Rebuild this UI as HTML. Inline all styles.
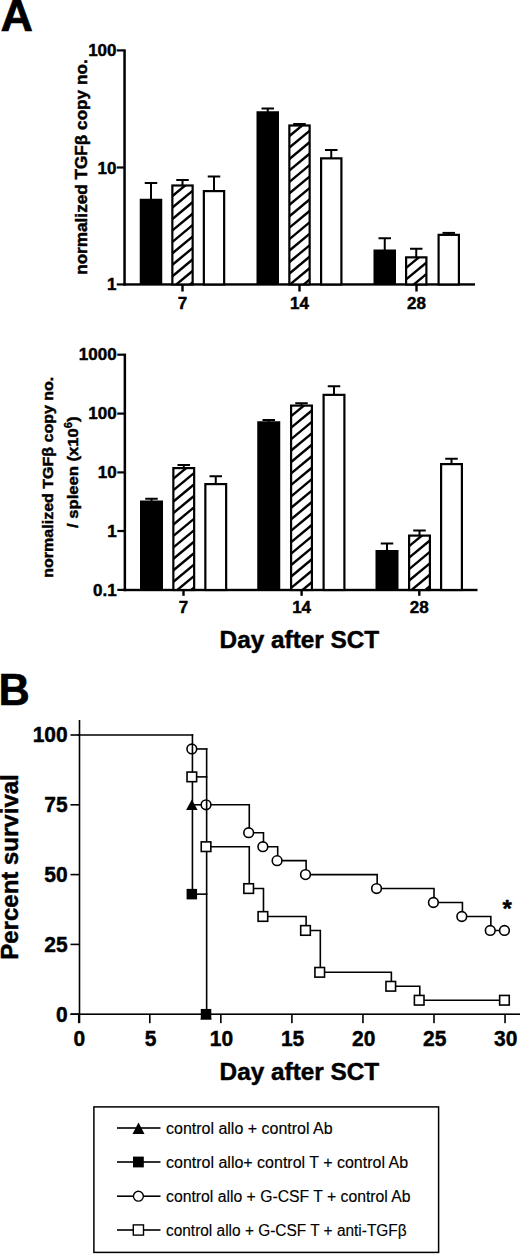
<!DOCTYPE html>
<html><head><meta charset="utf-8"><title>Figure</title>
<style>html,body{margin:0;padding:0;background:#fff}svg{display:block}</style></head>
<body>
<svg width="520" height="1255" viewBox="0 0 520 1255" font-family="Liberation Sans, Arial, Helvetica, sans-serif" fill="#000">
<rect x="0.00" y="0.00" width="520.00" height="1255.00" fill="#fff" />
<text x="0.60" y="31.20" font-size="45" font-weight="bold" text-anchor="start" stroke="#000" stroke-linejoin="round" stroke-width="0.7">A</text>
<text x="-1.50" y="705.10" font-size="45" font-weight="bold" text-anchor="start" textLength="31.3" lengthAdjust="spacingAndGlyphs" stroke="#000" stroke-linejoin="round" stroke-width="0.6">B</text>
<rect x="123.30" y="49.30" width="2.50" height="236.35" fill="#000" />
<rect x="123.30" y="283.25" width="351.70" height="2.40" fill="#000" />
<rect x="116.80" y="49.30" width="7.00" height="2.20" fill="#000" />
<text x="116.50" y="56.40" font-size="17" font-weight="bold" text-anchor="end" stroke="#000" stroke-width="0.45" stroke-linejoin="round" >100</text>
<rect x="116.80" y="166.40" width="7.00" height="2.20" fill="#000" />
<text x="116.50" y="173.50" font-size="17" font-weight="bold" text-anchor="end" stroke="#000" stroke-width="0.45" stroke-linejoin="round" >10</text>
<rect x="116.80" y="283.35" width="7.00" height="2.20" fill="#000" />
<text x="116.50" y="290.45" font-size="17" font-weight="bold" text-anchor="end" stroke="#000" stroke-width="0.45" stroke-linejoin="round" >1</text>
<rect x="181.30" y="284.45" width="2.40" height="7.10" fill="#000" />
<text x="182.50" y="309.00" font-size="17" font-weight="bold" text-anchor="middle" stroke="#000" stroke-width="0.45" stroke-linejoin="round" >7</text>
<rect x="298.30" y="284.45" width="2.40" height="7.10" fill="#000" />
<text x="299.50" y="309.00" font-size="17" font-weight="bold" text-anchor="middle" stroke="#000" stroke-width="0.45" stroke-linejoin="round" >14</text>
<rect x="415.30" y="284.45" width="2.40" height="7.10" fill="#000" />
<text x="416.50" y="309.00" font-size="17" font-weight="bold" text-anchor="middle" stroke="#000" stroke-width="0.45" stroke-linejoin="round" >28</text>
<text transform="translate(86.9,167.1) rotate(-90)" font-size="16" font-weight="bold" stroke="#000" stroke-width="0.45" text-anchor="middle" textLength="215.5" lengthAdjust="spacingAndGlyphs">normalized TGFβ copy no.</text>
<rect x="150.00" y="183.00" width="2.00" height="16.75" fill="#000" />
<rect x="144.75" y="182.00" width="12.50" height="2.00" fill="#000" />
<rect x="139.75" y="198.75" width="22.50" height="85.70" fill="#000" />
<rect x="181.50" y="180.00" width="2.00" height="5.40" fill="#000" />
<rect x="176.25" y="179.00" width="12.50" height="2.00" fill="#000" />
<rect x="172.35" y="185.50" width="20.30" height="98.95" fill="#fff" stroke="#000" stroke-width="2.2"/>
<clipPath id="c1"><rect x="172.35" y="185.50" width="20.30" height="98.95"/></clipPath>
<g clip-path="url(#c1)" stroke="#000" stroke-width="2.4">
<line x1="168.75" y1="164.77" x2="197.75" y2="140.70"/>
<line x1="168.75" y1="176.22" x2="197.75" y2="152.15"/>
<line x1="168.75" y1="187.67" x2="197.75" y2="163.60"/>
<line x1="168.75" y1="199.12" x2="197.75" y2="175.05"/>
<line x1="168.75" y1="210.57" x2="197.75" y2="186.50"/>
<line x1="168.75" y1="222.02" x2="197.75" y2="197.95"/>
<line x1="168.75" y1="233.47" x2="197.75" y2="209.40"/>
<line x1="168.75" y1="244.92" x2="197.75" y2="220.85"/>
<line x1="168.75" y1="256.37" x2="197.75" y2="232.30"/>
<line x1="168.75" y1="267.82" x2="197.75" y2="243.75"/>
<line x1="168.75" y1="279.27" x2="197.75" y2="255.20"/>
<line x1="168.75" y1="290.72" x2="197.75" y2="266.65"/>
<line x1="168.75" y1="302.17" x2="197.75" y2="278.10"/>
</g>
<rect x="213.00" y="176.50" width="2.00" height="14.50" fill="#000" />
<rect x="207.75" y="175.50" width="12.50" height="2.00" fill="#000" />
<rect x="203.85" y="191.10" width="20.30" height="93.35" fill="#fff" stroke="#000" stroke-width="2.2"/>
<rect x="266.75" y="108.50" width="2.00" height="3.75" fill="#000" />
<rect x="261.50" y="107.50" width="12.50" height="2.00" fill="#000" />
<rect x="256.50" y="111.25" width="22.50" height="173.20" fill="#000" />
<rect x="298.50" y="124.00" width="2.00" height="1.40" fill="#000" />
<rect x="293.25" y="123.00" width="12.50" height="2.00" fill="#000" />
<rect x="289.35" y="125.50" width="20.30" height="158.95" fill="#fff" stroke="#000" stroke-width="2.2"/>
<clipPath id="c2"><rect x="289.35" y="125.50" width="20.30" height="158.95"/></clipPath>
<g clip-path="url(#c2)" stroke="#000" stroke-width="2.4">
<line x1="285.75" y1="104.77" x2="314.75" y2="80.70"/>
<line x1="285.75" y1="116.22" x2="314.75" y2="92.15"/>
<line x1="285.75" y1="127.67" x2="314.75" y2="103.60"/>
<line x1="285.75" y1="139.12" x2="314.75" y2="115.05"/>
<line x1="285.75" y1="150.57" x2="314.75" y2="126.50"/>
<line x1="285.75" y1="162.02" x2="314.75" y2="137.95"/>
<line x1="285.75" y1="173.47" x2="314.75" y2="149.40"/>
<line x1="285.75" y1="184.92" x2="314.75" y2="160.85"/>
<line x1="285.75" y1="196.37" x2="314.75" y2="172.30"/>
<line x1="285.75" y1="207.82" x2="314.75" y2="183.75"/>
<line x1="285.75" y1="219.27" x2="314.75" y2="195.20"/>
<line x1="285.75" y1="230.72" x2="314.75" y2="206.65"/>
<line x1="285.75" y1="242.17" x2="314.75" y2="218.10"/>
<line x1="285.75" y1="253.62" x2="314.75" y2="229.55"/>
<line x1="285.75" y1="265.07" x2="314.75" y2="241.00"/>
<line x1="285.75" y1="276.52" x2="314.75" y2="252.45"/>
<line x1="285.75" y1="287.97" x2="314.75" y2="263.90"/>
<line x1="285.75" y1="299.42" x2="314.75" y2="275.35"/>
<line x1="285.75" y1="310.87" x2="314.75" y2="286.80"/>
</g>
<rect x="330.25" y="150.00" width="2.00" height="8.25" fill="#000" />
<rect x="325.00" y="149.00" width="12.50" height="2.00" fill="#000" />
<rect x="321.10" y="158.35" width="20.30" height="126.10" fill="#fff" stroke="#000" stroke-width="2.2"/>
<rect x="383.75" y="238.25" width="2.00" height="12.25" fill="#000" />
<rect x="378.50" y="237.25" width="12.50" height="2.00" fill="#000" />
<rect x="373.50" y="249.50" width="22.50" height="34.95" fill="#000" />
<rect x="415.25" y="248.75" width="2.00" height="8.50" fill="#000" />
<rect x="410.00" y="247.75" width="12.50" height="2.00" fill="#000" />
<rect x="406.10" y="257.35" width="20.30" height="27.10" fill="#fff" stroke="#000" stroke-width="2.2"/>
<clipPath id="c3"><rect x="406.10" y="257.35" width="20.30" height="27.10"/></clipPath>
<g clip-path="url(#c3)" stroke="#000" stroke-width="2.4">
<line x1="402.50" y1="236.62" x2="431.50" y2="212.55"/>
<line x1="402.50" y1="248.07" x2="431.50" y2="224.00"/>
<line x1="402.50" y1="259.52" x2="431.50" y2="235.45"/>
<line x1="402.50" y1="270.97" x2="431.50" y2="246.90"/>
<line x1="402.50" y1="282.42" x2="431.50" y2="258.35"/>
<line x1="402.50" y1="293.87" x2="431.50" y2="269.80"/>
<line x1="402.50" y1="305.32" x2="431.50" y2="281.25"/>
</g>
<rect x="447.75" y="232.90" width="2.00" height="1.85" fill="#000" />
<rect x="442.50" y="231.90" width="12.50" height="2.00" fill="#000" />
<rect x="438.60" y="234.85" width="20.30" height="49.60" fill="#fff" stroke="#000" stroke-width="2.2"/>
<rect x="123.60" y="353.60" width="2.50" height="237.60" fill="#000" />
<rect x="123.30" y="588.80" width="354.20" height="2.40" fill="#000" />
<rect x="117.30" y="353.60" width="7.00" height="2.20" fill="#000" />
<text x="116.70" y="360.30" font-size="17" font-weight="bold" text-anchor="end" stroke="#000" stroke-width="0.45" stroke-linejoin="round" >1000</text>
<rect x="117.30" y="412.50" width="7.00" height="2.20" fill="#000" />
<text x="116.70" y="419.20" font-size="17" font-weight="bold" text-anchor="end" stroke="#000" stroke-width="0.45" stroke-linejoin="round" >100</text>
<rect x="117.30" y="471.30" width="7.00" height="2.20" fill="#000" />
<text x="116.70" y="478.00" font-size="17" font-weight="bold" text-anchor="end" stroke="#000" stroke-width="0.45" stroke-linejoin="round" >10</text>
<rect x="117.30" y="529.90" width="7.00" height="2.20" fill="#000" />
<text x="116.70" y="536.60" font-size="17" font-weight="bold" text-anchor="end" stroke="#000" stroke-width="0.45" stroke-linejoin="round" >1</text>
<rect x="117.30" y="588.80" width="7.00" height="2.20" fill="#000" />
<text x="116.70" y="595.50" font-size="17" font-weight="bold" text-anchor="end" stroke="#000" stroke-width="0.45" stroke-linejoin="round" >0.1</text>
<rect x="182.30" y="590.00" width="2.40" height="5.80" fill="#000" />
<text x="183.50" y="612.80" font-size="17" font-weight="bold" text-anchor="middle" stroke="#000" stroke-width="0.45" stroke-linejoin="round" >7</text>
<rect x="300.40" y="590.00" width="2.40" height="5.80" fill="#000" />
<text x="301.60" y="612.80" font-size="17" font-weight="bold" text-anchor="middle" stroke="#000" stroke-width="0.45" stroke-linejoin="round" >14</text>
<rect x="418.10" y="590.00" width="2.40" height="5.80" fill="#000" />
<text x="419.30" y="612.80" font-size="17" font-weight="bold" text-anchor="middle" stroke="#000" stroke-width="0.45" stroke-linejoin="round" >28</text>
<text transform="translate(52.9,477.2) rotate(-90)" font-size="15" font-weight="bold" stroke="#000" stroke-width="0.45" text-anchor="middle" textLength="201" lengthAdjust="spacingAndGlyphs">normalized TGFβ copy no.</text>
<text transform="translate(78.2,472.2) rotate(-90)" font-size="15" font-weight="bold" stroke="#000" stroke-width="0.45" text-anchor="middle" textLength="111.5" lengthAdjust="spacingAndGlyphs">/ spleen (x10<tspan font-size="10" dy="-6">6</tspan><tspan dy="6">)</tspan></text>
<rect x="150.50" y="498.75" width="2.00" height="2.75" fill="#000" />
<rect x="145.25" y="497.75" width="12.50" height="2.00" fill="#000" />
<rect x="140.00" y="500.50" width="23.00" height="89.50" fill="#000" />
<rect x="182.75" y="465.00" width="2.00" height="3.00" fill="#000" />
<rect x="177.50" y="464.00" width="12.50" height="2.00" fill="#000" />
<rect x="173.35" y="468.10" width="20.80" height="121.90" fill="#fff" stroke="#000" stroke-width="2.2"/>
<clipPath id="c4"><rect x="173.35" y="468.10" width="20.80" height="121.90"/></clipPath>
<g clip-path="url(#c4)" stroke="#000" stroke-width="2.4">
<line x1="169.75" y1="447.37" x2="199.25" y2="422.88"/>
<line x1="169.75" y1="458.82" x2="199.25" y2="434.33"/>
<line x1="169.75" y1="470.27" x2="199.25" y2="445.78"/>
<line x1="169.75" y1="481.72" x2="199.25" y2="457.23"/>
<line x1="169.75" y1="493.17" x2="199.25" y2="468.68"/>
<line x1="169.75" y1="504.62" x2="199.25" y2="480.13"/>
<line x1="169.75" y1="516.07" x2="199.25" y2="491.58"/>
<line x1="169.75" y1="527.52" x2="199.25" y2="503.03"/>
<line x1="169.75" y1="538.97" x2="199.25" y2="514.49"/>
<line x1="169.75" y1="550.42" x2="199.25" y2="525.93"/>
<line x1="169.75" y1="561.87" x2="199.25" y2="537.38"/>
<line x1="169.75" y1="573.32" x2="199.25" y2="548.84"/>
<line x1="169.75" y1="584.77" x2="199.25" y2="560.28"/>
<line x1="169.75" y1="596.22" x2="199.25" y2="571.74"/>
<line x1="169.75" y1="607.67" x2="199.25" y2="583.18"/>
</g>
<rect x="214.75" y="476.25" width="2.00" height="7.75" fill="#000" />
<rect x="209.50" y="475.25" width="12.50" height="2.00" fill="#000" />
<rect x="205.35" y="484.10" width="20.80" height="105.90" fill="#fff" stroke="#000" stroke-width="2.2"/>
<rect x="267.75" y="420.00" width="2.00" height="2.25" fill="#000" />
<rect x="262.50" y="419.00" width="12.50" height="2.00" fill="#000" />
<rect x="257.25" y="421.25" width="23.00" height="168.75" fill="#000" />
<rect x="300.50" y="403.25" width="2.00" height="2.25" fill="#000" />
<rect x="295.25" y="402.25" width="12.50" height="2.00" fill="#000" />
<rect x="291.10" y="405.60" width="20.80" height="184.40" fill="#fff" stroke="#000" stroke-width="2.2"/>
<clipPath id="c5"><rect x="291.10" y="405.60" width="20.80" height="184.40"/></clipPath>
<g clip-path="url(#c5)" stroke="#000" stroke-width="2.4">
<line x1="287.50" y1="384.87" x2="317.00" y2="360.38"/>
<line x1="287.50" y1="396.32" x2="317.00" y2="371.83"/>
<line x1="287.50" y1="407.77" x2="317.00" y2="383.28"/>
<line x1="287.50" y1="419.22" x2="317.00" y2="394.73"/>
<line x1="287.50" y1="430.67" x2="317.00" y2="406.18"/>
<line x1="287.50" y1="442.12" x2="317.00" y2="417.63"/>
<line x1="287.50" y1="453.57" x2="317.00" y2="429.08"/>
<line x1="287.50" y1="465.02" x2="317.00" y2="440.53"/>
<line x1="287.50" y1="476.47" x2="317.00" y2="451.98"/>
<line x1="287.50" y1="487.92" x2="317.00" y2="463.43"/>
<line x1="287.50" y1="499.37" x2="317.00" y2="474.88"/>
<line x1="287.50" y1="510.82" x2="317.00" y2="486.33"/>
<line x1="287.50" y1="522.27" x2="317.00" y2="497.78"/>
<line x1="287.50" y1="533.72" x2="317.00" y2="509.23"/>
<line x1="287.50" y1="545.17" x2="317.00" y2="520.68"/>
<line x1="287.50" y1="556.62" x2="317.00" y2="532.13"/>
<line x1="287.50" y1="568.07" x2="317.00" y2="543.59"/>
<line x1="287.50" y1="579.52" x2="317.00" y2="555.03"/>
<line x1="287.50" y1="590.97" x2="317.00" y2="566.49"/>
<line x1="287.50" y1="602.42" x2="317.00" y2="577.93"/>
<line x1="287.50" y1="613.87" x2="317.00" y2="589.38"/>
</g>
<rect x="333.00" y="386.25" width="2.00" height="8.50" fill="#000" />
<rect x="327.75" y="385.25" width="12.50" height="2.00" fill="#000" />
<rect x="323.60" y="394.85" width="20.80" height="195.15" fill="#fff" stroke="#000" stroke-width="2.2"/>
<rect x="386.00" y="543.50" width="2.00" height="7.50" fill="#000" />
<rect x="380.75" y="542.50" width="12.50" height="2.00" fill="#000" />
<rect x="375.50" y="550.00" width="23.00" height="40.00" fill="#000" />
<rect x="418.50" y="530.50" width="2.00" height="5.00" fill="#000" />
<rect x="413.25" y="529.50" width="12.50" height="2.00" fill="#000" />
<rect x="409.10" y="535.60" width="20.80" height="54.40" fill="#fff" stroke="#000" stroke-width="2.2"/>
<clipPath id="c6"><rect x="409.10" y="535.60" width="20.80" height="54.40"/></clipPath>
<g clip-path="url(#c6)" stroke="#000" stroke-width="2.4">
<line x1="405.50" y1="514.87" x2="435.00" y2="490.38"/>
<line x1="405.50" y1="526.32" x2="435.00" y2="501.83"/>
<line x1="405.50" y1="537.77" x2="435.00" y2="513.28"/>
<line x1="405.50" y1="549.22" x2="435.00" y2="524.74"/>
<line x1="405.50" y1="560.67" x2="435.00" y2="536.19"/>
<line x1="405.50" y1="572.12" x2="435.00" y2="547.63"/>
<line x1="405.50" y1="583.57" x2="435.00" y2="559.09"/>
<line x1="405.50" y1="595.02" x2="435.00" y2="570.53"/>
<line x1="405.50" y1="606.47" x2="435.00" y2="581.99"/>
</g>
<rect x="450.50" y="458.75" width="2.00" height="5.25" fill="#000" />
<rect x="445.25" y="457.75" width="12.50" height="2.00" fill="#000" />
<rect x="441.10" y="464.10" width="20.80" height="125.90" fill="#fff" stroke="#000" stroke-width="2.2"/>
<text x="219.60" y="647.60" font-size="23" font-weight="bold" text-anchor="start" textLength="159.6" lengthAdjust="spacingAndGlyphs" stroke="#000" stroke-width="0.45" stroke-linejoin="round" >Day after SCT</text>
<rect x="78.70" y="720.00" width="1.60" height="303.00" fill="#000" />
<rect x="70.50" y="1013.40" width="449.50" height="1.60" fill="#000" />
<rect x="70.50" y="734.20" width="9.00" height="1.60" fill="#000" />
<text x="67.70" y="742.30" font-size="22" font-weight="bold" text-anchor="end" textLength="35.04" lengthAdjust="spacingAndGlyphs" stroke="#000" stroke-width="0.45" stroke-linejoin="round" >100</text>
<rect x="70.50" y="804.00" width="9.00" height="1.60" fill="#000" />
<text x="67.70" y="812.10" font-size="22" font-weight="bold" text-anchor="end" textLength="23.36" lengthAdjust="spacingAndGlyphs" stroke="#000" stroke-width="0.45" stroke-linejoin="round" >75</text>
<rect x="70.50" y="873.80" width="9.00" height="1.60" fill="#000" />
<text x="67.70" y="881.90" font-size="22" font-weight="bold" text-anchor="end" textLength="23.36" lengthAdjust="spacingAndGlyphs" stroke="#000" stroke-width="0.45" stroke-linejoin="round" >50</text>
<rect x="70.50" y="943.60" width="9.00" height="1.60" fill="#000" />
<text x="67.70" y="951.70" font-size="22" font-weight="bold" text-anchor="end" textLength="23.36" lengthAdjust="spacingAndGlyphs" stroke="#000" stroke-width="0.45" stroke-linejoin="round" >25</text>
<rect x="70.50" y="1013.40" width="9.00" height="1.60" fill="#000" />
<text x="67.70" y="1021.50" font-size="22" font-weight="bold" text-anchor="end" textLength="11.68" lengthAdjust="spacingAndGlyphs" stroke="#000" stroke-width="0.45" stroke-linejoin="round" >0</text>
<rect x="77.95" y="1014.20" width="1.60" height="9.00" fill="#000" />
<text x="79.45" y="1046.30" font-size="22" font-weight="bold" text-anchor="middle" textLength="11.68" lengthAdjust="spacingAndGlyphs" stroke="#000" stroke-width="0.45" stroke-linejoin="round" >0</text>
<rect x="149.00" y="1014.20" width="1.60" height="9.00" fill="#000" />
<text x="150.50" y="1046.30" font-size="22" font-weight="bold" text-anchor="middle" textLength="11.68" lengthAdjust="spacingAndGlyphs" stroke="#000" stroke-width="0.45" stroke-linejoin="round" >5</text>
<rect x="220.05" y="1014.20" width="1.60" height="9.00" fill="#000" />
<text x="221.55" y="1046.30" font-size="22" font-weight="bold" text-anchor="middle" textLength="23.36" lengthAdjust="spacingAndGlyphs" stroke="#000" stroke-width="0.45" stroke-linejoin="round" >10</text>
<rect x="291.10" y="1014.20" width="1.60" height="9.00" fill="#000" />
<text x="292.60" y="1046.30" font-size="22" font-weight="bold" text-anchor="middle" textLength="23.36" lengthAdjust="spacingAndGlyphs" stroke="#000" stroke-width="0.45" stroke-linejoin="round" >15</text>
<rect x="362.15" y="1014.20" width="1.60" height="9.00" fill="#000" />
<text x="363.65" y="1046.30" font-size="22" font-weight="bold" text-anchor="middle" textLength="23.36" lengthAdjust="spacingAndGlyphs" stroke="#000" stroke-width="0.45" stroke-linejoin="round" >20</text>
<rect x="433.20" y="1014.20" width="1.60" height="9.00" fill="#000" />
<text x="434.70" y="1046.30" font-size="22" font-weight="bold" text-anchor="middle" textLength="23.36" lengthAdjust="spacingAndGlyphs" stroke="#000" stroke-width="0.45" stroke-linejoin="round" >25</text>
<rect x="504.25" y="1014.20" width="1.60" height="9.00" fill="#000" />
<text x="505.75" y="1046.30" font-size="22" font-weight="bold" text-anchor="middle" textLength="23.36" lengthAdjust="spacingAndGlyphs" stroke="#000" stroke-width="0.45" stroke-linejoin="round" >30</text>
<text transform="translate(18.2,867) rotate(-90)" font-size="24" font-weight="bold" stroke="#000" stroke-width="0.45" text-anchor="middle" textLength="185.5" lengthAdjust="spacingAndGlyphs">Percent survival</text>
<text x="219.60" y="1079.60" font-size="23" font-weight="bold" text-anchor="start" textLength="159.6" lengthAdjust="spacingAndGlyphs" stroke="#000" stroke-width="0.45" stroke-linejoin="round" >Day after SCT</text>
<polyline points="78.75,735.00 192.43,735.00" fill="none" stroke="#000" stroke-width="1.6" stroke-linejoin="miter" stroke-linecap="square"/>
<polyline points="192.43,748.96 206.64,748.96" fill="none" stroke="#000" stroke-width="1.6" stroke-linejoin="miter" stroke-linecap="square"/>
<polyline points="192.43,776.88 206.64,776.88" fill="none" stroke="#000" stroke-width="1.6" stroke-linejoin="miter" stroke-linecap="square"/>
<polyline points="192.43,804.80 206.64,804.80" fill="none" stroke="#000" stroke-width="1.6" stroke-linejoin="miter" stroke-linecap="square"/>
<polyline points="192.43,894.14 206.64,894.14" fill="none" stroke="#000" stroke-width="1.6" stroke-linejoin="miter" stroke-linecap="square"/>
<polyline points="206.64,804.80 249.27,804.80 249.27,832.72 263.48,832.72 263.48,846.68 277.69,846.68 277.69,860.64 306.11,860.64 306.11,874.60 377.16,874.60 377.16,888.56 434.00,888.56 434.00,902.52 462.42,902.52 462.42,916.48 490.84,916.48 490.84,930.44 505.05,930.44" fill="none" stroke="#000" stroke-width="1.6" stroke-linejoin="miter" stroke-linecap="square"/>
<polyline points="206.64,846.68 249.27,846.68 249.27,888.56 263.48,888.56 263.48,916.48 306.11,916.48 306.11,930.44 320.32,930.44 320.32,972.32 391.37,972.32 391.37,986.28 419.79,986.28 419.79,1000.24 505.05,1000.24" fill="none" stroke="#000" stroke-width="1.6" stroke-linejoin="miter" stroke-linecap="square"/>
<polygon points="186.08,810.05 197.58,810.05 191.83,799.55" fill="#000"/>
<polygon points="200.29,1019.45 211.79,1019.45 206.04,1008.95" fill="#000"/>
<rect x="186.58" y="888.89" width="10.50" height="10.50" fill="#000" />
<rect x="200.79" y="1008.95" width="10.50" height="10.50" fill="#000" />
<circle cx="191.83" cy="748.96" r="4.85" fill="#fff" stroke="#000" stroke-width="1.6"/>
<circle cx="206.04" cy="804.80" r="4.85" fill="#fff" stroke="#000" stroke-width="1.6"/>
<circle cx="248.67" cy="832.72" r="4.85" fill="#fff" stroke="#000" stroke-width="1.6"/>
<circle cx="262.88" cy="846.68" r="4.85" fill="#fff" stroke="#000" stroke-width="1.6"/>
<circle cx="277.09" cy="860.64" r="4.85" fill="#fff" stroke="#000" stroke-width="1.6"/>
<circle cx="305.51" cy="874.60" r="4.85" fill="#fff" stroke="#000" stroke-width="1.6"/>
<circle cx="376.56" cy="888.56" r="4.85" fill="#fff" stroke="#000" stroke-width="1.6"/>
<circle cx="433.40" cy="902.52" r="4.85" fill="#fff" stroke="#000" stroke-width="1.6"/>
<circle cx="461.82" cy="916.48" r="4.85" fill="#fff" stroke="#000" stroke-width="1.6"/>
<circle cx="490.24" cy="930.44" r="4.85" fill="#fff" stroke="#000" stroke-width="1.6"/>
<circle cx="504.45" cy="930.44" r="4.85" fill="#fff" stroke="#000" stroke-width="1.6"/>
<polyline points="192.43,735.00 192.43,894.14" fill="none" stroke="#000" stroke-width="1.6" stroke-linejoin="miter" stroke-linecap="square"/>
<polyline points="206.64,748.96 206.64,1014.20" fill="none" stroke="#000" stroke-width="1.6" stroke-linejoin="miter" stroke-linecap="square"/>
<rect x="187.03" y="772.08" width="9.60" height="9.60" fill="#fff" stroke="#000" stroke-width="1.6"/>
<rect x="201.24" y="841.88" width="9.60" height="9.60" fill="#fff" stroke="#000" stroke-width="1.6"/>
<rect x="243.87" y="883.76" width="9.60" height="9.60" fill="#fff" stroke="#000" stroke-width="1.6"/>
<rect x="258.08" y="911.68" width="9.60" height="9.60" fill="#fff" stroke="#000" stroke-width="1.6"/>
<rect x="300.71" y="925.64" width="9.60" height="9.60" fill="#fff" stroke="#000" stroke-width="1.6"/>
<rect x="314.92" y="967.52" width="9.60" height="9.60" fill="#fff" stroke="#000" stroke-width="1.6"/>
<rect x="385.97" y="981.48" width="9.60" height="9.60" fill="#fff" stroke="#000" stroke-width="1.6"/>
<rect x="414.39" y="995.44" width="9.60" height="9.60" fill="#fff" stroke="#000" stroke-width="1.6"/>
<rect x="499.65" y="995.44" width="9.60" height="9.60" fill="#fff" stroke="#000" stroke-width="1.6"/>
<text x="502.50" y="916.80" font-size="24" font-weight="bold" text-anchor="start" stroke="#000" stroke-width="0.45" stroke-linejoin="round" >*</text>
<rect x="93.9" y="1106.9" width="344.70" height="145.50" fill="none" stroke="#000" stroke-width="1.5"/>
<rect x="117.00" y="1127.20" width="43.50" height="1.60" fill="#000" />
<polygon points="132.50,1134.05 144.50,1134.05 138.50,1122.55" fill="#000"/>
<text x="166.00" y="1133.80" font-size="16" font-weight="normal" text-anchor="start" textLength="166.6" lengthAdjust="spacingAndGlyphs" stroke="#000" stroke-width="0.15" stroke-linejoin="round" >control allo + control Ab</text>
<rect x="117.00" y="1161.20" width="43.50" height="1.60" fill="#000" />
<rect x="133.00" y="1156.60" width="10.80" height="10.80" fill="#000" />
<text x="166.00" y="1167.80" font-size="16" font-weight="normal" text-anchor="start" textLength="242.1" lengthAdjust="spacingAndGlyphs" stroke="#000" stroke-width="0.15" stroke-linejoin="round" >control allo+ control T + control Ab</text>
<rect x="117.00" y="1195.40" width="43.50" height="1.60" fill="#000" />
<circle cx="138.40" cy="1196.20" r="4.95" fill="#fff" stroke="#000" stroke-width="1.4"/>
<text x="166.00" y="1202.00" font-size="16" font-weight="normal" text-anchor="start" textLength="244.6" lengthAdjust="spacingAndGlyphs" stroke="#000" stroke-width="0.15" stroke-linejoin="round" >control allo + G-CSF T + control Ab</text>
<rect x="117.00" y="1229.20" width="43.50" height="1.60" fill="#000" />
<rect x="133.30" y="1224.90" width="10.20" height="10.20" fill="#fff" stroke="#000" stroke-width="1.4"/>
<text x="166.00" y="1235.80" font-size="16" font-weight="normal" text-anchor="start" textLength="240.6" lengthAdjust="spacingAndGlyphs" stroke="#000" stroke-width="0.15" stroke-linejoin="round" >control allo + G-CSF T + anti-TGFβ</text>
</svg>
</body></html>
